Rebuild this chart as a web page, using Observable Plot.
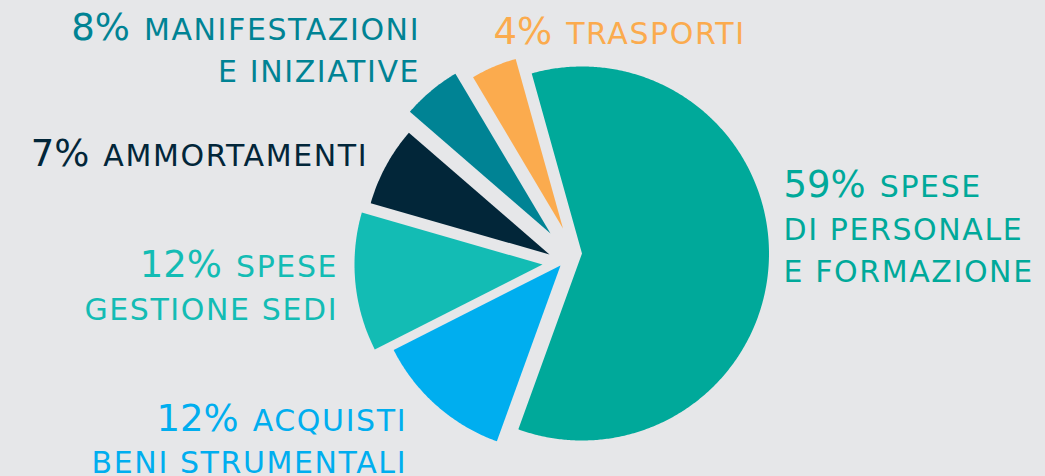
<!DOCTYPE html>
<html><head><meta charset="utf-8">
<script src="https://cdn.jsdelivr.net/npm/d3@7"></script>
<script src="https://cdn.jsdelivr.net/npm/@observablehq/plot@0.6"></script>
<style>
html,body{margin:0;padding:0;background:#e6e7e9;}
#chart{width:1045px;height:476px;overflow:hidden}
#chart svg g[font-size="30"] text{letter-spacing:1.6px;}
</style></head><body><div id="chart"></div>
<script>
// ---- data ----
const categories = ["SPESE DI PERSONALE E FORMAZIONE","ACQUISTI BENI STRUMENTALI","SPESE GESTIONE SEDI","AMMORTAMENTI","MANIFESTAZIONI E INIZIATIVE","TRASPORTI"];
const shares = [59.8, 12.0, 11.9, 6.9, 5.1, 4.2];           // slice sizes as drawn
const percentLabels = ["59%","12%","12%","7%","8%","4%"];    // printed labels
const labelLines = [["SPESE","DI PERSONALE","E FORMAZIONE"],["ACQUISTI","BENI STRUMENTALI"],["SPESE","GESTIONE SEDI"],["AMMORTAMENTI"],["MANIFESTAZIONI","E INIZIATIVE"],["TRASPORTI"]];
const colors = ["#00a99a","#00aeef","#13bcb4","#022639","#008394","#fbab4e"];

// ---- layout / style ----
const W = 1045, H = 476, cx = 560, cy = 252;
const startDeg = -15.6;
const sliceOffset = [[21.5,1],[0,13],[-18,12],[-11,2],[-10,-19],[2.5,-24]];
const sliceRadius = [187,187,188,186,186,176];
const labelAnchor = [
  {x:783, y:196.7, align:"start"},
  {x:405, y:430.2, align:"end"},
  {x:336, y:276.7, align:"end"},
  {x:366, y:165.7, align:"end"},
  {x:418, y:39.3,  align:"end"},
  {x:493, y:43,    align:"start"}
];
const lineGap = 42.6;
const fontFamily = '"DejaVu Sans", sans-serif';
const numSize = 37, wordSize = 30, wordSpacing = 1.6, gap = 14;

// ---- slices from d3.pie ----
const a0 = startDeg * Math.PI / 180;
const arcs = d3.pie().sort(null).startAngle(a0).endAngle(a0 + 2 * Math.PI)(shares);
const pts = [];
arcs.forEach((a, i) => {
  const [ox, oy] = sliceOffset[i], R = sliceRadius[i];
  pts.push({slice: i, x: ox, y: oy, color: colors[i]});
  const n = Math.max(8, Math.ceil((a.endAngle - a.startAngle) / (Math.PI / 360)));
  for (let k = 0; k <= n; k++) {
    const t = a.startAngle + (a.endAngle - a.startAngle) * k / n;
    pts.push({slice: i, x: ox + R * Math.sin(t), y: oy - R * Math.cos(t), color: colors[i]});
  }
  pts.push({slice: i, x: ox, y: oy, color: colors[i]});
});

// ---- labels ----
const ctx = document.createElement("canvas").getContext("2d");
function measure(str, size, ls) { ctx.font = `${size}px ${fontFamily}`; return ctx.measureText(str).width + ls * str.length; }
const numbers = [], words = [];
labelLines.forEach((lines, i) => {
  const a = labelAnchor[i];
  lines.forEach((line, j) => {
    const by = a.y + j * lineGap;
    const ww = measure(line, wordSize, wordSpacing);
    if (j === 0) {
      const wn = measure(percentLabels[i], numSize, 0);
      let xn, xw;
      if (a.align === "start") { xn = a.x; xw = a.x + wn + gap; }
      else { xw = a.x - ww + wordSpacing; xn = xw - gap - wn; }
      numbers.push({x: xn - cx, y: by - cy, text: percentLabels[i], color: colors[i]});
      words.push({x: xw - cx, y: by - cy, text: line, color: colors[i]});
    } else {
      const xw = a.align === "start" ? a.x : a.x - ww + wordSpacing;
      words.push({x: xw - cx, y: by - cy, text: line, color: colors[i]});
    }
  });
});

const chart = Plot.plot({
  width: W, height: H, margin: 0,
  x: {domain: [-cx, W - cx], range: [0, W], axis: null},
  y: {domain: [-cy, H - cy], range: [0, H], axis: null},
  style: {background: "#e6e7e9", fontFamily},
  marks: [
    Plot.line(pts, {x: "x", y: "y", z: "slice", fill: "color", stroke: "none"}),
    Plot.text(numbers, {x: "x", y: "y", text: "text", fill: "color", textAnchor: "start", lineAnchor: "bottom", fontSize: numSize, fontFamily}),
    Plot.text(words, {x: "x", y: "y", text: "text", fill: "color", textAnchor: "start", lineAnchor: "bottom", fontSize: wordSize, fontFamily})
  ]
});
document.getElementById("chart").appendChild(chart);
</script></body></html>
